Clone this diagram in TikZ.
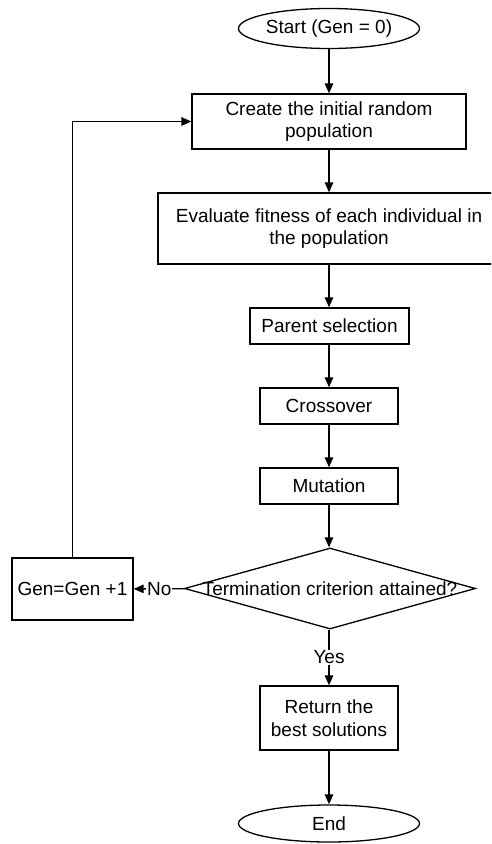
\documentclass[tikz,border=0pt]{standalone}
\usepackage{fontspec}
\setmainfont{Liberation Sans}
\usetikzlibrary{shapes.geometric,arrows.meta}

\begin{document}
\begin{tikzpicture}[
  x=1pt, y=-1pt,
  font=\fontsize{19}{22.4}\selectfont,
  box/.style={rectangle, draw, line width=1.3pt, inner sep=0pt, align=center},
  term/.style={ellipse, draw, line width=1.3pt, inner sep=0pt, minimum width=181pt, minimum height=40pt},
  decision/.style={diamond, draw, line width=1.3pt, inner sep=0pt, minimum width=291pt, minimum height=81pt},
  flow/.style={draw, line width=1.3pt, -{Triangle[length=10pt,width=8.5pt]}},
  lbl/.style={fill=white, inner sep=1pt}
]
  \clip (0,0) rectangle (491,844);

  \node[term] (start) at (329,28.5) {Start (Gen = 0)};
  \node[box, minimum width=274pt, minimum height=55pt] (create) at (329,121.5) {Create the initial random\\population};
  \node[box, minimum width=342pt, minimum height=71pt] (evaluate) at (329,228.5) {Evaluate fitness of each individual in\\the population};
  \node[box, minimum width=159pt, minimum height=36pt] (parent) at (329.5,326) {Parent selection};
  \node[box, minimum width=138pt, minimum height=36pt] (crossover) at (329,406) {Crossover};
  \node[box, minimum width=138pt, minimum height=36pt] (mutation) at (329,486) {Mutation};
  \node[decision] (check) at (330,588.5) {\makebox[0pt]{Termination criterion attained?}};
  \node[box, minimum width=121pt, minimum height=62pt] (nextgen) at (72.5,589) {Gen=Gen +1};
  \node[box, minimum width=138pt, minimum height=64pt] (result) at (329,718) {Return the\\best solutions};
  \node[term, minimum height=37pt] (stop) at (329,823.5) {End};

  \draw[flow] (start) -- (create);
  \draw[flow] (create.south -| evaluate.north) -- (evaluate.north -| create.south);
  \draw[flow] (evaluate.south -| create.south) -- (parent.north -| create.south);
  \draw[flow] (parent.south -| create.south) -- (crossover);
  \draw[flow] (crossover) -- (mutation);
  \draw[flow] (mutation) -- (check.north -| mutation.south);
  \draw[flow] (check.south -| result.north) -- node[lbl] {Yes} (result);
  \draw[flow] (check) -- node[lbl, pos=0.5] {No} (nextgen);
  \draw[flow] (nextgen) |- (create);
  \draw[flow] (result) -- (stop);
\end{tikzpicture}
\end{document}
